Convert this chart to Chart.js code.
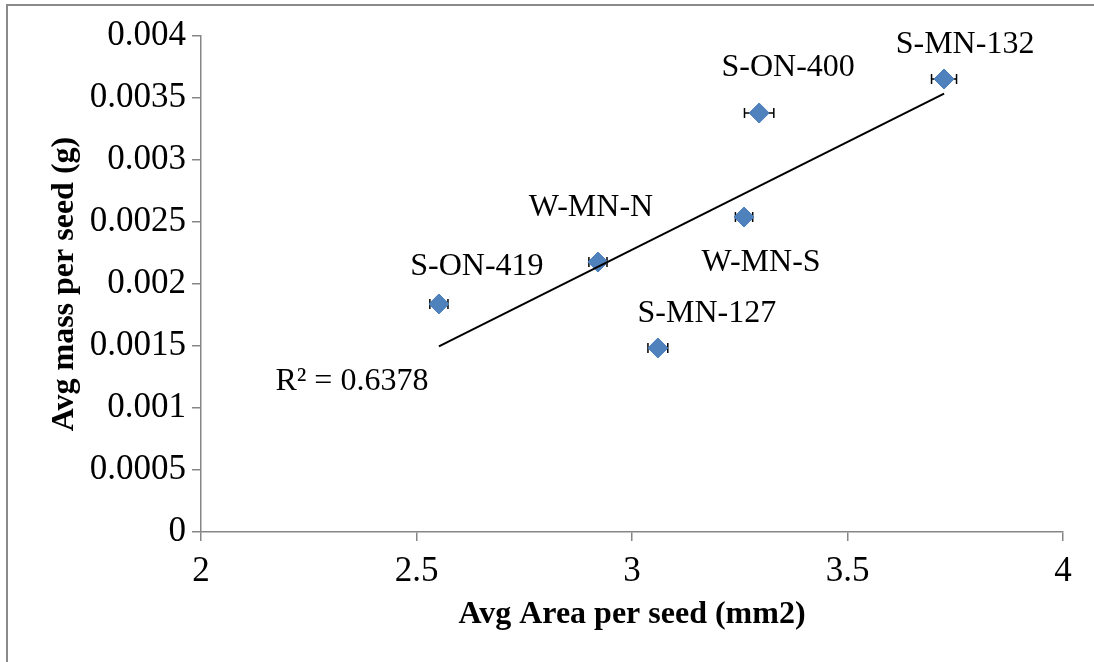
<!DOCTYPE html>
<html>
<head>
<meta charset="utf-8">
<script src="https://cdn.jsdelivr.net/npm/chart.js@4.4.0/dist/chart.umd.min.js"></script>
<style>
    html, body { margin: 0; padding: 0; background: #fff; overflow: hidden; }
    #quadro { position: absolute; left: 6px; top: 4px; width: 2000px; height: 2000px; border: 2px solid #8a8a8a; }
    #grafico { position: absolute; left: 0; top: 0; width: 1094px; height: 662px; }
</style>
</head>
<body>
<div id="quadro"></div>
<div id="grafico"><canvas id="sementes"></canvas></div>
<script>
// valores
var nomesSementes = ['S-ON-419', 'W-MN-N', 'S-MN-127', 'W-MN-S', 'S-ON-400', 'S-MN-132'];
var areaMedia = [2.552, 2.921, 3.060, 3.260, 3.295, 3.724];
var massaMedia = [0.001839, 0.002177, 0.001484, 0.002540, 0.003379, 0.003653];
var erroArea = [0.021, 0.021, 0.023, 0.020, 0.034, 0.029];
var textoR2 = 'R\u00b2 = 0.6378';

// deslocamento dos rotulos em px (so estilo)
var deslocRotulos = [[38, -37], [-7, -54], [49, -34], [17, 46], [29, -45], [21, -34]];
var deslocR2 = [-87, 35];

var fonte = 'Liberation Serif';

window.onload = function () {
    init();
};

function init() {
    carregarGrafico();
}

// reta de tendencia por minimos quadrados
function tendencia() {
    var n = areaMedia.length, mx = 0, my = 0;
    for (var i = 0; i < n; i++) { mx += areaMedia[i]; my += massaMedia[i]; }
    mx /= n; my /= n;
    var sxy = 0, sxx = 0;
    for (var j = 0; j < n; j++) {
        sxy += (areaMedia[j] - mx) * (massaMedia[j] - my);
        sxx += (areaMedia[j] - mx) * (areaMedia[j] - mx);
    }
    var a = sxy / sxx, b = my - a * mx;
    var x0 = Math.min.apply(null, areaMedia), x1 = Math.max.apply(null, areaMedia);
    return [{x: x0, y: a * x0 + b}, {x: x1, y: a * x1 + b}];
}

var barrasErro = {
    id: 'barrasErro',
    beforeDatasetsDraw: function (chart) {
        var ctx = chart.ctx, sx = chart.scales.x, sy = chart.scales.y;
        ctx.save();
        ctx.strokeStyle = '#000';
        ctx.lineWidth = 1.5;
        for (var i = 0; i < areaMedia.length; i++) {
            var x0 = sx.getPixelForValue(areaMedia[i] - erroArea[i]);
            var x1 = sx.getPixelForValue(areaMedia[i] + erroArea[i]);
            var y = sy.getPixelForValue(massaMedia[i]);
            ctx.beginPath();
            ctx.moveTo(x0, y); ctx.lineTo(x1, y);
            ctx.moveTo(x0, y - 5); ctx.lineTo(x0, y + 5);
            ctx.moveTo(x1, y - 5); ctx.lineTo(x1, y + 5);
            ctx.stroke();
        }
        ctx.restore();
    }
};

var rotulos = {
    id: 'rotulos',
    afterDatasetsDraw: function (chart) {
        var ctx = chart.ctx, sx = chart.scales.x, sy = chart.scales.y;
        ctx.save();
        ctx.fillStyle = '#000';
        ctx.font = '32px "' + fonte + '"';
        ctx.textAlign = 'center';
        ctx.textBaseline = 'middle';
        for (var i = 0; i < nomesSementes.length; i++) {
            var px = sx.getPixelForValue(areaMedia[i]);
            var py = sy.getPixelForValue(massaMedia[i]);
            ctx.fillText(nomesSementes[i], px + deslocRotulos[i][0], py + deslocRotulos[i][1]);
        }
        var ini = tendencia()[0];
        ctx.fillText(textoR2, sx.getPixelForValue(ini.x) + deslocR2[0], sy.getPixelForValue(ini.y) + deslocR2[1]);
        ctx.restore();
    }
};

function carregarGrafico() {
    var pontos = [];
    for (var i = 0; i < areaMedia.length; i++) {
        pontos.push({x: areaMedia[i], y: massaMedia[i]});
    }
    var ctx = document.getElementById('sementes');
    new Chart(ctx, {
        type: 'scatter',
        data: {
            datasets: [{
                    label: 'tendencia',
                    type: 'line',
                    data: tendencia(),
                    borderColor: '#000',
                    borderWidth: 2,
                    pointRadius: 0,
                    fill: false,
                    order: 0
                }, {
                    label: 'sementes',
                    data: pontos,
                    pointStyle: 'rectRot',
                    pointRadius: 10,
                    pointHoverRadius: 10,
                    backgroundColor: '#4f81bd',
                    borderColor: '#4a7ebb',
                    borderWidth: 1,
                    order: 1
                }]
        },
        options: {
            responsive: true,
            maintainAspectRatio: false,
            animation: false,
            events: [],
            layout: {padding: {left: 0, right: 31, top: 36, bottom: 0}},
            plugins: {legend: {display: false}, tooltip: {enabled: false}},
            scales: {
                x: {
                    type: 'linear',
                    min: 2, max: 4,
                    afterFit: function (s) { s.height = 130; },
                    ticks: {stepSize: 0.5, color: '#000', padding: 10, font: {family: fonte, size: 35},
                        callback: function (v) { return String(+v.toFixed(1)); }},
                    grid: {display: true, drawOnChartArea: false, drawTicks: true, tickLength: 9, color: '#868686', lineWidth: 1.5},
                    border: {display: true, color: '#868686', width: 1.5},
                    title: {display: true, text: 'Avg Area per seed (mm2)', color: '#000',
                        font: {family: fonte, size: 32, weight: 'bold'}, padding: {top: 0, bottom: 28}}
                },
                y: {
                    min: 0, max: 0.004,
                    afterFit: function (s) { s.width = 201; },
                    ticks: {stepSize: 0.0005, color: '#000', padding: 6, font: {family: fonte, size: 35},
                        callback: function (v) { return String(+v.toFixed(4)); }},
                    grid: {display: true, drawOnChartArea: false, drawTicks: true, tickLength: 9, color: '#868686', lineWidth: 1.5},
                    border: {display: true, color: '#868686', width: 1.5},
                    title: {display: true, text: 'Avg mass per seed (g)', color: '#000',
                        font: {family: fonte, size: 32, weight: 'bold'}, padding: {top: 46, bottom: 0}}
                }
            }
        },
        plugins: [barrasErro, rotulos]
    });
}
</script>
</body>
</html>
